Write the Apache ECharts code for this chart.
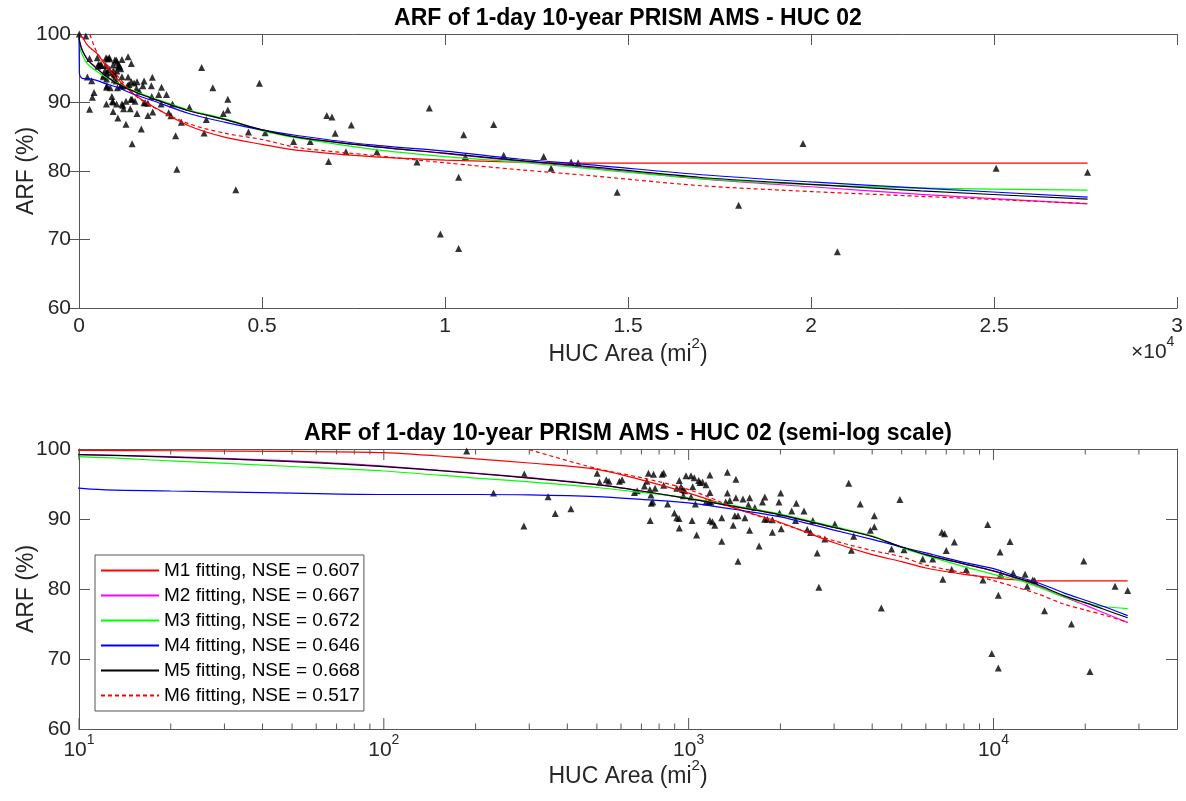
<!DOCTYPE html>
<html>
<head>
<meta charset="utf-8">
<script src="https://cdn.jsdelivr.net/npm/echarts@6/dist/echarts.min.js"></script>
<style>
html,body{margin:0;padding:0;background:#fff;}
#chart{width:1186px;height:801px;}
</style>
</head>
<body>
<div id="chart"></div>
<script>
// ---------------- data ----------------
const TITLE_TOP = 'ARF of 1-day 10-year PRISM AMS - HUC 02';
const TITLE_BOTTOM = 'ARF of 1-day 10-year PRISM AMS - HUC 02 (semi-log scale)';
const MODEL_NAMES = [
  'M1 fitting, NSE = 0.607',
  'M2 fitting, NSE = 0.667',
  'M3 fitting, NSE = 0.672',
  'M4 fitting, NSE = 0.646',
  'M5 fitting, NSE = 0.668',
  'M6 fitting, NSE = 0.517'
];
// observed points (area mi^2, ARF %)
const PT_AREA = [8, 187, 229, 289, 288, 346, 365, 411, 501, 510, 537, 548, 593, 605, 664, 678, 716, 729, 738, 767,
  746, 752, 748, 754, 763, 776, 818, 828, 828, 853, 898, 914, 930, 932, 914, 932, 944, 956, 970, 980,
  1018, 1043, 961, 1018, 1026, 1031, 1052, 1062, 1079, 1089, 1111, 1140, 1140, 1168, 1182, 1174, 1174, 1174, 1197, 1218,
  1284, 1284, 1340, 1340, 1323, 1365, 1400, 1429, 1417, 1452, 1452, 1429, 1507, 1585, 1530, 1570, 1585, 1648, 1703, 1746,
  1778, 1776, 1811, 1882, 1882, 1978, 2004, 1987, 2013, 2178, 2255, 2390, 2243, 2450, 2512, 2555, 2640, 2674, 2797, 3016,
  3350, 3419, 3478, 3656, 3945, 4066, 4066, 4285, 4630, 4930, 5087, 5862, 6318, 6770, 6911, 7000, 7440, 6819, 7294, 8141,
  9235, 9572, 9873, 10373, 10373, 10510, 10556, 11330, 11603, 12697, 12900, 13446, 13637, 14704, 18023, 19781, 20720, 25058, 27557];
const PT_ARF = [100, 99.7, 93.72, 96.44, 89.0, 93.18, 90.77, 91.46, 96.53, 95.3, 95.59, 95.39, 95.39, 95.59, 93.77, 94.02, 94.71, 95.39, 96.53, 96.38,
  94.22, 93.43, 89.78, 92.24, 92.44, 94.41, 96.38, 96.58, 94.81, 92.14, 90.86, 90.17, 90.08, 88.7, 94.41, 95.49, 94.61, 94.22, 94.02, 96.19,
  96.19, 95.89, 93.33, 93.13, 89.78, 94.61, 92.14, 87.72, 95.49, 95.2, 95.3, 94.91, 92.44, 92.44, 92.44, 96.28, 93.77, 89.78, 89.59, 89.09,
  90.17, 86.83, 96.68, 93.72, 92.44, 92.64, 89.09, 95.69, 90.47, 90.47, 83.97, 93.03, 92.84, 93.03, 90.17, 92.05, 88.41, 91.65, 86.14, 92.44,
  93.13, 89.98, 89.98, 89.88, 88.11, 92.44, 93.7, 90.86, 88.6, 91.16, 92.24, 91.16, 89.78, 88.5, 88.06, 89.78, 85.16, 80.24, 87.13, 89.29,
  95.1, 85.55, 87.52, 92.14, 88.41, 88.9, 90.47, 77.28, 85.7, 92.8, 85.6, 84.3, 84.3, 88.1, 87.9, 85.5, 86.7, 81.4, 82.8, 82.8,
  81.3, 89.2, 70.8, 68.7, 79.1, 85.3, 82.1, 86.8, 82.3, 82.1, 80.4, 81.3, 81.2, 76.9, 75.0, 84.0, 68.2, 80.4, 79.8];
// fitted curves sampled at these areas
const CURVE_AREA = [1, 10, 20, 50, 100, 200, 300, 500, 700, 1000, 1500, 2000, 3000, 4000, 5000, 6000, 8000, 10000, 12000, 14000, 17000, 20000, 23000, 27557];
const M1 = [100, 99.8, 99.75, 99.65, 99.47, 98.6, 98.0, 97.1, 95.6, 93.7, 91.2, 89.5, 86.6, 84.9, 83.9, 83.0, 82.1, 81.6, 81.3, 81.15, 81.15, 81.15, 81.15, 81.15];
const M2 = [100, 99.2, 98.9, 98.3, 97.55, 96.55, 95.9, 94.95, 94.0, 92.9, 91.6, 90.6, 88.8, 87.5, 86.0, 84.9, 83.6, 82.55, 81.45, 80.45, 78.85, 77.7, 76.6, 75.2];
const M3 = [100, 98.9, 98.3, 97.5, 96.86, 95.85, 95.3, 94.5, 93.8, 93.0, 91.7, 90.7, 88.9, 87.6, 85.9, 84.8, 83.2, 82.1, 81.3, 80.3, 78.9, 78.0, 77.5, 77.2];
const M4 = [100, 94.4, 94.0, 93.7, 93.5, 93.5, 93.45, 93.2, 92.8, 92.3, 91.2, 90.3, 88.4, 87.1, 86.0, 85.15, 83.8, 82.9, 81.75, 80.9, 79.45, 78.4, 77.5, 76.2];
const M5 = [100, 99.2, 98.85, 98.2, 97.48, 96.5, 95.85, 94.9, 94.0, 92.9, 91.6, 90.6, 88.8, 87.5, 86.0, 84.9, 83.6, 82.6, 81.55, 80.6, 79.05, 78.05, 77.1, 75.9];
const M6 = [null, null, null, null, null, null, 99.9, 97.2, 95.9, 94.2, 91.2, 89.4, 86.9, 85.5, 84.6, 83.4, 82.3, 81.2, 80.2, 79.3, 77.85, 77.0, 76.3, 75.25];
// axis ticks
const X_LIN_TICK_LABELS = ['0', '0.5', '1', '1.5', '2', '2.5', '3'];
const LOG_MAJOR_TICKS = [10, 100, 1000, 10000];
const LOG_MINOR_TICKS = [20, 30, 40, 50, 60, 70, 80, 90, 200, 300, 400, 500, 600, 700, 800, 900,
  2000, 3000, 4000, 5000, 6000, 7000, 8000, 9000, 20000, 30000];

// ---------------- styles ----------------
const FONT = 'Liberation Sans, Arial, Helvetica, sans-serif';
const AX = '#262626';
const AXL = '#555555';
const COLORS = ['#ff0000', '#ff00ff', '#00ff00', '#0000ff', '#000000', '#ff0000'];
const MODELS = [M1, M2, M3, M4, M5, M6];
const TICK_FS = 21, NAME_FS = 23, TITLE_FS = 23, LEGEND_FS = 19, SUP_FS = 14;

const chart = echarts.init(document.getElementById('chart'), null, {renderer: 'canvas'});

const pts = PT_AREA.map((a, i) => [a, PT_ARF[i]]);
function curve(vals) {
  const out = [];
  CURVE_AREA.forEach((a, i) => { if (vals[i] !== null) out.push([a, vals[i]]); });
  return out;
}

const grids = [
  {left: 79, top: 34, width: 1098, height: 274, containLabel: false, outerBoundsMode: 'none'},
  {left: 79, top: 449, width: 1098, height: 280, containLabel: false, outerBoundsMode: 'none'}
];

const tickLen = 11;
const baseAxis = {
  nameMoveOverlap: false,
  axisLine: {show: true, lineStyle: {color: AXL, width: 1}},
  axisTick: {show: true, inside: true, length: tickLen, lineStyle: {color: AXL, width: 1}},
  splitLine: {show: false},
  axisLabel: {color: AX, fontSize: TICK_FS, fontFamily: FONT},
  nameTextStyle: {color: AX, fontSize: NAME_FS, fontFamily: FONT}
};

const X_NAME = '{n|HUC Area (mi}{s|2}{n|)}';
const X_NAME_STYLE = {color: AX, fontSize: NAME_FS, fontFamily: FONT, rich: {
  n: {fontSize: NAME_FS, fontFamily: FONT, color: AX, lineHeight: 30, verticalAlign: 'bottom'},
  s: {fontSize: 15, fontFamily: FONT, color: AX, lineHeight: 18, verticalAlign: 'top'}
}};

function supLabel(exp) { return '{b|10}{s|' + exp + '}'; }
const SUP_RICH = {
  b: {fontSize: TICK_FS, fontFamily: FONT, color: AX, lineHeight: 28, verticalAlign: 'bottom'},
  s: {fontSize: SUP_FS, fontFamily: FONT, color: AX, lineHeight: 16, verticalAlign: 'top'}
};

const xAxes = [
  Object.assign({}, baseAxis, {
    gridIndex: 0, type: 'value', min: 0, max: 30000, interval: 5000, position: 'bottom',
    name: X_NAME, nameLocation: 'middle', nameGap: 28, nameTextStyle: X_NAME_STYLE,
    axisLabel: Object.assign({}, baseAxis.axisLabel, {margin: 8,
      formatter: v => X_LIN_TICK_LABELS[Math.round(v / 5000)] || ''})
  }),
  Object.assign({}, baseAxis, {
    gridIndex: 0, type: 'value', min: 0, max: 30000, interval: 5000, position: 'top',
    axisLabel: {show: false}
  }),
  Object.assign({}, baseAxis, {
    gridIndex: 1, type: 'log', logBase: 10, min: 10, max: 40000, position: 'bottom',
    axisTick: {show: false},
    name: X_NAME, nameLocation: 'middle', nameGap: 29, nameTextStyle: X_NAME_STYLE,
    axisLabel: Object.assign({}, baseAxis.axisLabel, {margin: 4, showMaxLabel: false,
      formatter: function (v) {
        const e = Math.log10(v);
        const r = Math.round(e);
        if (Math.abs(e - r) > 1e-6) return '';
        return supLabel(r);
      },
      rich: SUP_RICH
    })
  }),
  Object.assign({}, baseAxis, {
    gridIndex: 1, type: 'log', logBase: 10, min: 10, max: 40000, position: 'top',
    axisTick: {show: false}, axisLabel: {show: false}
  })
];

const yAxes = [0, 1].flatMap(g => [
  Object.assign({}, baseAxis, {
    gridIndex: g, type: 'value', min: 60, max: 100, interval: 10, position: 'left',
    name: 'ARF (%)', nameLocation: 'middle', nameGap: 41,
    axisLabel: Object.assign({}, baseAxis.axisLabel, {margin: 8})
  }),
  Object.assign({}, baseAxis, {
    gridIndex: g, type: 'value', min: 60, max: 100, interval: 10, position: 'right',
    axisLabel: {show: false}
  })
]);

function tickSeries(values, len) {
  return {
    type: 'custom', xAxisIndex: 2, yAxisIndex: 2, silent: true, z: 5,
    data: values.map(v => [v, 60]),
    renderItem: function (params, api) {
      const top = api.coord([api.value(0), 100]);
      const bot = api.coord([api.value(0), 60]);
      const st = {stroke: AXL, lineWidth: 1};
      return {type: 'group', children: [
        {type: 'line', shape: {x1: bot[0], y1: bot[1], x2: bot[0], y2: bot[1] - len}, style: st},
        {type: 'line', shape: {x1: top[0], y1: top[1], x2: top[0], y2: top[1] + len}, style: st}
      ]};
    }
  };
}

const series = [];
[0, 1].forEach(g => {
  series.push({
    type: 'scatter', name: 'data', xAxisIndex: g * 2, yAxisIndex: g * 2,
    data: pts, symbol: 'triangle', symbolSize: 7,
    itemStyle: {color: '#000'}, z: 2, clip: true, silent: true
  });
  MODELS.forEach((m, k) => {
    series.push({
      type: 'line', name: MODEL_NAMES[k], xAxisIndex: g * 2, yAxisIndex: g * 2,
      data: curve(m), symbol: 'none', smooth: 0.3, clip: true, silent: true,
      lineStyle: {color: COLORS[k], width: 1.2, type: k === 5 ? [4, 3] : 'solid'},
      itemStyle: {color: COLORS[k]}, z: 3
    });
  });
});
series.push(tickSeries(LOG_MAJOR_TICKS, 11));
series.push(tickSeries(LOG_MINOR_TICKS, 5.5));

const option = {
  backgroundColor: '#fff',
  animation: false,
  textStyle: {fontFamily: FONT},
  grid: grids,
  xAxis: xAxes,
  yAxis: yAxes,
  legend: {
    data: MODEL_NAMES,
    orient: 'vertical', left: 95, top: 555,
    itemWidth: 58, itemHeight: 14, itemGap: 6,
    padding: [6, 4, 6, 5],
    itemStyle: {opacity: 0},
    backgroundColor: '#fff', borderColor: AXL, borderWidth: 1, borderRadius: 0,
    textStyle: {color: '#000', fontSize: LEGEND_FS, fontFamily: FONT, lineHeight: 19},
    selectedMode: false
  },
  graphic: [
    {type: 'text', x: 628, y: 19, z: 10, style: {text: TITLE_TOP, font: 'bold ' + TITLE_FS + 'px ' + FONT, fill: '#000', textAlign: 'center', textVerticalAlign: 'middle'}},
    {type: 'text', x: 628, y: 434, z: 10, style: {text: TITLE_BOTTOM, font: 'bold ' + TITLE_FS + 'px ' + FONT, fill: '#000', textAlign: 'center', textVerticalAlign: 'middle'}},
    {type: 'text', x: 1131, y: 335, z: 10, style: {text: '{b|×10}{s|4}', rich: {
      b: {fontSize: TICK_FS, fontFamily: FONT, fill: AX, lineHeight: 28, verticalAlign: 'bottom'},
      s: {fontSize: SUP_FS, fontFamily: FONT, fill: AX, lineHeight: 16, verticalAlign: 'top'}}}}
  ],
  series: series
};
chart.setOption(option);
</script>
</body>
</html>
